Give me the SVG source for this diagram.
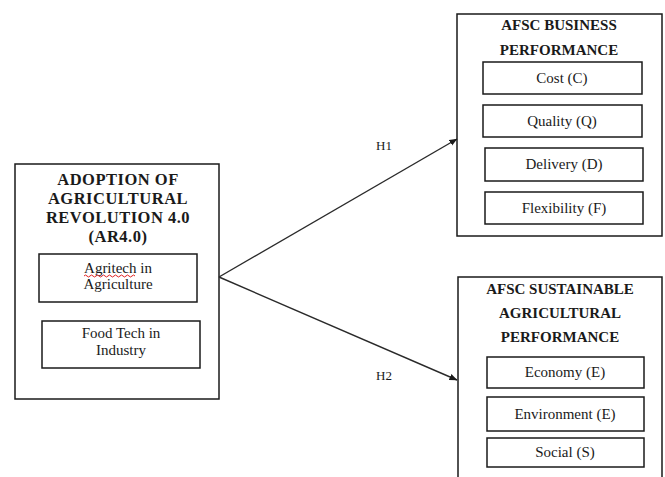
<svg xmlns="http://www.w3.org/2000/svg" width="665" height="477" viewBox="0 0 665 477">
<defs>
<style>
.box{fill:#fff;stroke:#1a1a1a;stroke-width:1.5}
.open{fill:none;stroke:#1a1a1a;stroke-width:1.5}
.t{font-family:"Liberation Serif","Times New Roman",serif;fill:#1a1a1a;text-anchor:middle}
.h{font-size:16.5px;font-weight:bold;letter-spacing:0.5px}
.hs{font-size:15px;font-weight:bold}
.n{font-size:15px}
.lbl{font-size:13px}
.edge{fill:none;stroke:#2a2a2a;stroke-width:1.4}
</style>
<marker id="arr" markerWidth="8" markerHeight="8" refX="7.5" refY="4" orient="auto" markerUnits="userSpaceOnUse">
<path d="M0,0.8 L8,4 L0,7.2 Z" fill="#1a1a1a"/>
</marker>
</defs>
<rect width="665" height="477" fill="#fff"/>

<g id="ar40">
<rect class="box" x="15" y="164" width="204" height="235"/>
<text class="t h" x="118" y="185">ADOPTION OF</text>
<text class="t h" x="118" y="204">AGRICULTURAL</text>
<text class="t h" x="118" y="223">REVOLUTION 4.0</text>
<text class="t h" x="118" y="242">(AR4.0)</text>
</g>
<g id="agritech">
<rect class="box" x="39" y="254" width="158" height="48"/>
<text class="t n" x="118" y="273">Agritech in</text>
<path d="M84,276 q1.5,-2 3,0 t3,0 t3,0 t3,0 t3,0 t3,0 t3,0 t3,0 t3,0 t3,0 t3,0 t3,0 t3,0 t3,0 t3,0 t3,0 t3,0" fill="none" stroke="#e02020" stroke-width="1"/>
<text class="t n" x="118" y="289">Agriculture</text>
</g>
<g id="foodtech">
<rect class="box" x="42" y="321" width="158" height="47"/>
<text class="t n" x="121" y="338">Food Tech in</text>
<text class="t n" x="121" y="355">Industry</text>
</g>

<g id="business">
<rect class="box" x="457" y="14" width="205" height="222"/>
<text class="t hs" x="559" y="30">AFSC BUSINESS</text>
<text class="t hs" x="559" y="55">PERFORMANCE</text>
</g>
<g id="cost">
<rect class="box" x="483" y="62" width="159" height="32"/>
<text class="t n" x="562" y="83">Cost (C)</text>
</g>
<g id="quality">
<rect class="box" x="483" y="105" width="159" height="32"/>
<text class="t n" x="562" y="126">Quality (Q)</text>
</g>
<g id="delivery">
<rect class="box" x="485" y="148" width="158" height="33"/>
<text class="t n" x="564" y="169">Delivery (D)</text>
</g>
<g id="flexibility">
<rect class="box" x="485" y="192" width="158" height="32"/>
<text class="t n" x="564" y="213">Flexibility (F)</text>
</g>

<g id="sustainable">
<path class="open" d="M458,478 V277 H662 V478"/>
<text class="t hs" x="560" y="294">AFSC SUSTAINABLE</text>
<text class="t hs" x="560" y="318">AGRICULTURAL</text>
<text class="t hs" x="560" y="342">PERFORMANCE</text>
</g>
<g id="economy">
<rect class="box" x="487" y="357" width="157" height="31"/>
<text class="t n" x="565" y="377">Economy (E)</text>
</g>
<g id="environment">
<rect class="box" x="487" y="397" width="157" height="34"/>
<text class="t n" x="565" y="419">Environment (E)</text>
</g>
<g id="social">
<rect class="box" x="487" y="438" width="157" height="29"/>
<text class="t n" x="565" y="457">Social (S)</text>
</g>

<g id="connectors">
<line class="edge" x1="219" y1="277" x2="457" y2="139" marker-end="url(#arr)"/>
<line class="edge" x1="219" y1="277" x2="457" y2="380" marker-end="url(#arr)"/>
<text class="t lbl" x="384" y="150">H1</text>
<text class="t lbl" x="384" y="380">H2</text>
</g>
</svg>
